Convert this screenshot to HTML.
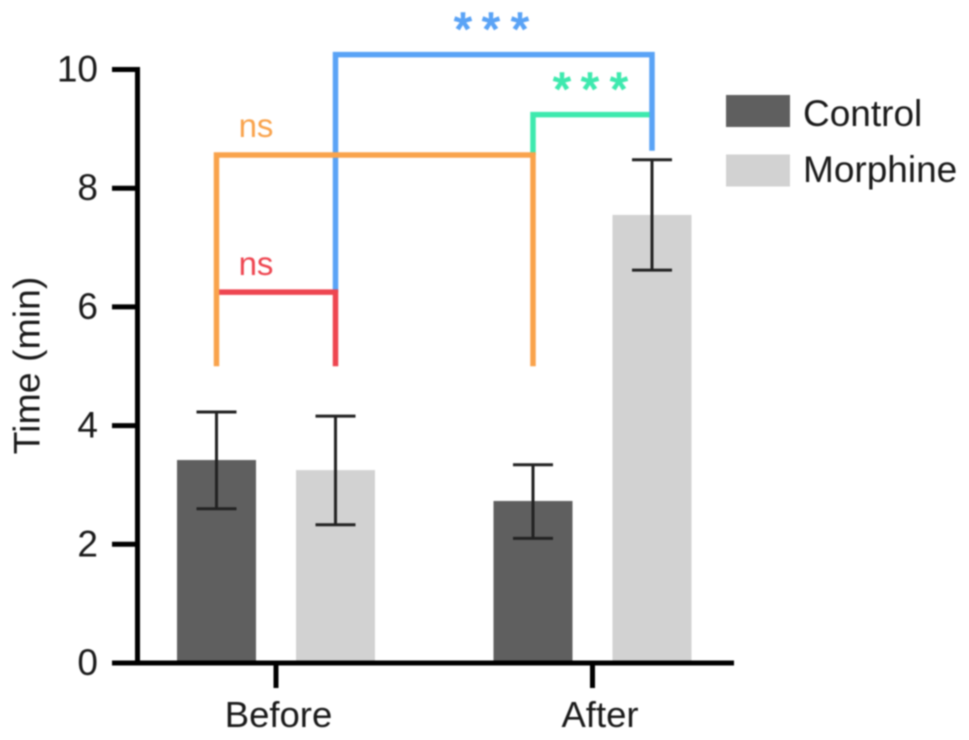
<!DOCTYPE html>
<html>
<head>
<meta charset="utf-8">
<style>
html,body{margin:0;padding:0;background:#fff;width:969px;height:740px;overflow:hidden}
svg{display:block;filter:blur(0.7px)}
text{font-family:"Liberation Sans",sans-serif}
</style>
</head>
<body>
<svg id="chart" xmlns="http://www.w3.org/2000/svg" width="969" height="740" viewBox="0 0 969 740"></svg>
<script>
const groups = ['Before', 'After'];
const controlValues = [3.42, 2.73];
const morphineValues = [3.25, 7.55];
const controlErrHigh = [4.23, 3.34];
const controlErrLow = [2.6, 2.1];
const morphineErrHigh = [4.16, 8.48];
const morphineErrLow = [2.33, 6.62];
const yTicks = [0, 2, 4, 6, 8, 10];
const legendLabels = ['Control', 'Morphine'];

const svg = document.getElementById('chart');
const NS = 'http://www.w3.org/2000/svg';
const y = v => 663 - v * 59.35;
const xGroup = i => 276 + i * 316.5;
const xBar = (i, s) => xGroup(i) + (s === 0 ? -59.5 : 59.5);
const BAR_W = 79;
const DARK = '#5f5f5f', LIGHT = '#d2d2d2';

function make(tag, props, text) {
  const el = document.createElementNS(NS, tag);
  for (const k in props) el.setAttribute(k, props[k]);
  if (text !== undefined) el.textContent = text;
  svg.appendChild(el);
  return el;
}
function line(x1, y1, x2, y2, color, w) {
  return make('line', {x1, y1, x2, y2, stroke: color, 'stroke-width': w});
}
function poly(points, color) {
  return make('polyline', {points: points.join(' '), fill: 'none', stroke: color, 'stroke-width': 5.5, 'stroke-linejoin': 'miter'});
}
function label(x, yy, txt, size, color, anchor) {
  return make('text', {x, y: yy, 'font-size': size, fill: color, 'text-anchor': anchor}, txt);
}

/* bars */
groups.forEach((g, i) => {
  const a = make('rect', {x: xBar(i, 0) - BAR_W / 2, y: y(controlValues[i]), width: BAR_W, height: y(0) - y(controlValues[i]), fill: DARK});
  
  
  const b = make('rect', {x: xBar(i, 1) - BAR_W / 2, y: y(morphineValues[i]), width: BAR_W, height: y(0) - y(morphineValues[i]), fill: LIGHT});
  
  
});

/* error bars */
function errorBar(cx, hi, lo, name) {
  const s = line(cx, y(hi), cx, y(lo), '#222', 3);
  
  
  const t = line(cx - 20, y(hi), cx + 20, y(hi), '#222', 3);
  
  
  const u = line(cx - 20, y(lo), cx + 20, y(lo), '#222', 3);
  
  
}
groups.forEach((g, i) => {
  errorBar(xBar(i, 0), controlErrHigh[i], controlErrLow[i], 'error-control-' + g.toLowerCase());
  errorBar(xBar(i, 1), morphineErrHigh[i], morphineErrLow[i], 'error-morphine-' + g.toLowerCase());
});

/* axes */
const yAxis = line(137.5, y(10) - 2.5, 137.5, y(0) + 2.5, '#000', 5);


const xAxis = line(112, y(0), 734, y(0), '#000', 5);



yTicks.forEach(t => {
  const m = line(112, y(t), 137, y(t), '#000', 5);
  
  
  const l = label(98, y(t) + 12, String(t), 37, '#1a1a1a', 'end');
  
  
});
groups.forEach((g, i) => {
  const m = line(xGroup(i), y(0), xGroup(i), 688, '#000', 5);
  
  
  const l = label(xGroup(i) + (i === 0 ? 2.5 : 7.5), 727, g, 36.5, '#1a1a1a', 'middle');
  
  
});

const yTitle = make('text', {x: 0, y: 0, 'font-size': 37.5, fill: '#1a1a1a', 'text-anchor': 'middle', transform: 'translate(39.5 365.5) rotate(-90)'}, 'Time (min)');



/* significance brackets */
const BLUE = '#5aa3f6', ORANGE = '#f9a34c', RED = '#ee4550', GREEN = '#3ee9ae';
const blue = poly([xBar(0, 1), y(6.25), xBar(0, 1), y(10.25), xBar(1, 1), y(10.25), xBar(1, 1), y(8.63)], BLUE);


const red = poly([xBar(0, 0), y(6.25), xBar(0, 1), y(6.25), xBar(0, 1), y(5)], RED);


const green = poly([xBar(1, 0), y(8.56), xBar(1, 0), y(9.24), xBar(1, 1) - 2.5, y(9.24)], GREEN);


const orange = poly([xBar(0, 0), y(5), xBar(0, 0), y(8.56), xBar(1, 0), y(8.56), xBar(1, 0), y(5)], ORANGE);



const ns1 = label(256, 137, 'ns', 33, ORANGE, 'middle');


const ns2 = label(256, 275, 'ns', 33, RED, 'middle');



[463, 491, 520].forEach((sx, k) => {
  const s = label(sx, 45, '*', 46, BLUE, 'middle');
  s.setAttribute('stroke', BLUE);
  s.setAttribute('stroke-width', '1.6');
  
  
});
[562, 590, 619].forEach((sx, k) => {
  const s = label(sx, 105, '*', 46, GREEN, 'middle');
  s.setAttribute('stroke', GREEN);
  s.setAttribute('stroke-width', '1.6');
  
  
});

/* legend */
legendLabels.forEach((t, i) => {
  const r = make('rect', {x: 726, y: 95 + i * 59.5, width: 64, height: 32, fill: i === 0 ? DARK : LIGHT});
  
  
  const l = label(803, 126 + i * 56, t, 37, '#1a1a1a', 'start');
  
  
});
</script>
</body>
</html>
